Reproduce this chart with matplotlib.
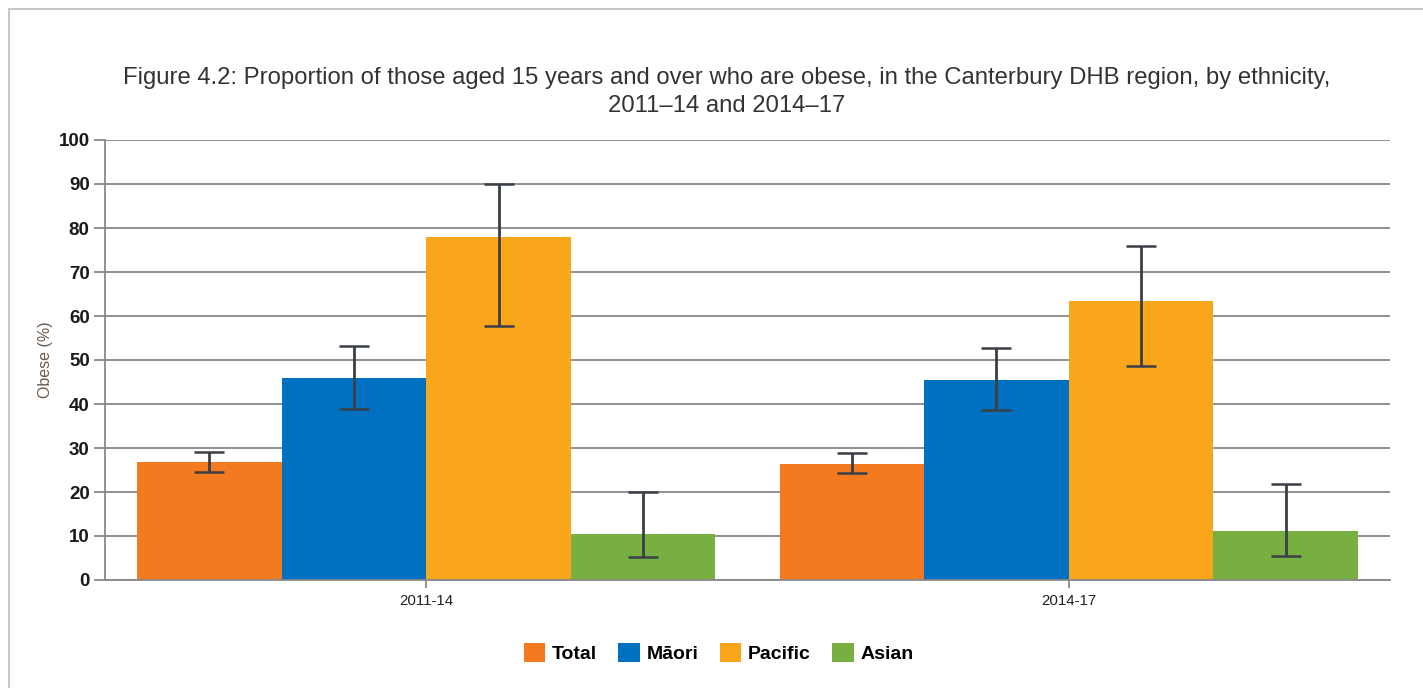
import numpy as np
import matplotlib.pyplot as plt
from matplotlib.patches import Rectangle

# data
periods = ['2011-14', '2014-17']
groups = ['Total', 'Māori', 'Pacific', 'Asian']
colors = ['#F47A20', '#0070C0', '#F9A61A', '#77B041']

value = {
    'Total':   [26.9, 26.4],
    'Māori':   [45.9, 45.5],
    'Pacific': [78.0, 63.4],
    'Asian':   [10.5, 11.1],
}
lower = {
    'Total':   [24.6, 24.3],
    'Māori':   [38.9, 38.6],
    'Pacific': [57.7, 48.6],
    'Asian':   [5.2, 5.5],
}
upper = {
    'Total':   [29.2, 28.9],
    'Māori':   [53.2, 52.7],
    'Pacific': [90.0, 75.9],
    'Asian':   [20.0, 21.8],
}

plt.rcParams['font.family'] = ['Liberation Sans', 'DejaVu Sans']

fig = plt.figure(figsize=(14.23, 6.88), dpi=100)
ax = fig.add_axes([105 / 1423, 1 - 580 / 688, 1285 / 1423, 440 / 688])

# light frame round the chart
fig.patches.append(Rectangle((9 / 1423, -0.05), 1.1, 1 - 9 / 688 + 0.05,
                             transform=fig.transFigure, fill=False,
                             edgecolor='#c8c8c8', linewidth=1.5))

x = np.arange(len(periods))
w = 0.9 / len(groups)
for i, g in enumerate(groups):
    pos = x - 0.45 + w * (i + 0.5)
    v = np.array(value[g])
    err = [v - np.array(lower[g]), np.array(upper[g]) - v]
    ax.bar(pos, v, width=w, color=colors[i], label=g, zorder=2)
    ax.errorbar(pos, v, yerr=err, fmt='none', ecolor='#3a3f47',
                elinewidth=2, capsize=11, capthick=1.8, zorder=3)

ax.set_xlim(-0.5, 1.5)
ax.set_ylim(0, 100)
ax.set_yticks(np.arange(0, 101, 10))
ax.set_xticks(x)
ax.set_xticklabels(periods, fontsize=10.8, color='#222222')
ax.grid(axis='y', color='#888888', linewidth=1.3, zorder=0)
ax.set_axisbelow(True)
for s in ['top', 'right']:
    ax.spines[s].set_visible(False)
ax.spines['left'].set_color('#888888')
ax.spines['bottom'].set_color('#888888')
ax.spines['left'].set_linewidth(1.3)
ax.spines['bottom'].set_linewidth(1.3)
ax.tick_params(axis='y', length=8, color='#888888', width=1.3,
               labelsize=13.5, pad=3)
ax.tick_params(axis='x', length=6, color='#888888', width=1.3, pad=4)
for t in ax.get_yticklabels():
    t.set_fontweight('bold')
    t.set_color('#1a1a1a')

ax.set_ylabel('Obese (%)', fontsize=11.5, color='#6b5a4e', labelpad=4)

fig.text(0.511, 1 - 92 / 688,
         'Figure 4.2: Proportion of those aged 15 years and over who are obese, '
         'in the Canterbury DHB region, by ethnicity,\n2011\u201314 and 2014\u201317',
         ha='center', va='center', fontsize=17.2, color='#333333',
         linespacing=1.35)

fig.legend(loc='center', bbox_to_anchor=(0.505, 1 - 653 / 688), ncol=4,
           frameon=False, prop={'weight': 'bold', 'size': 14},
           handlelength=1.1, handleheight=1.1, handletextpad=0.35,
           columnspacing=1.1)

fig.savefig('out.png', dpi=100)
